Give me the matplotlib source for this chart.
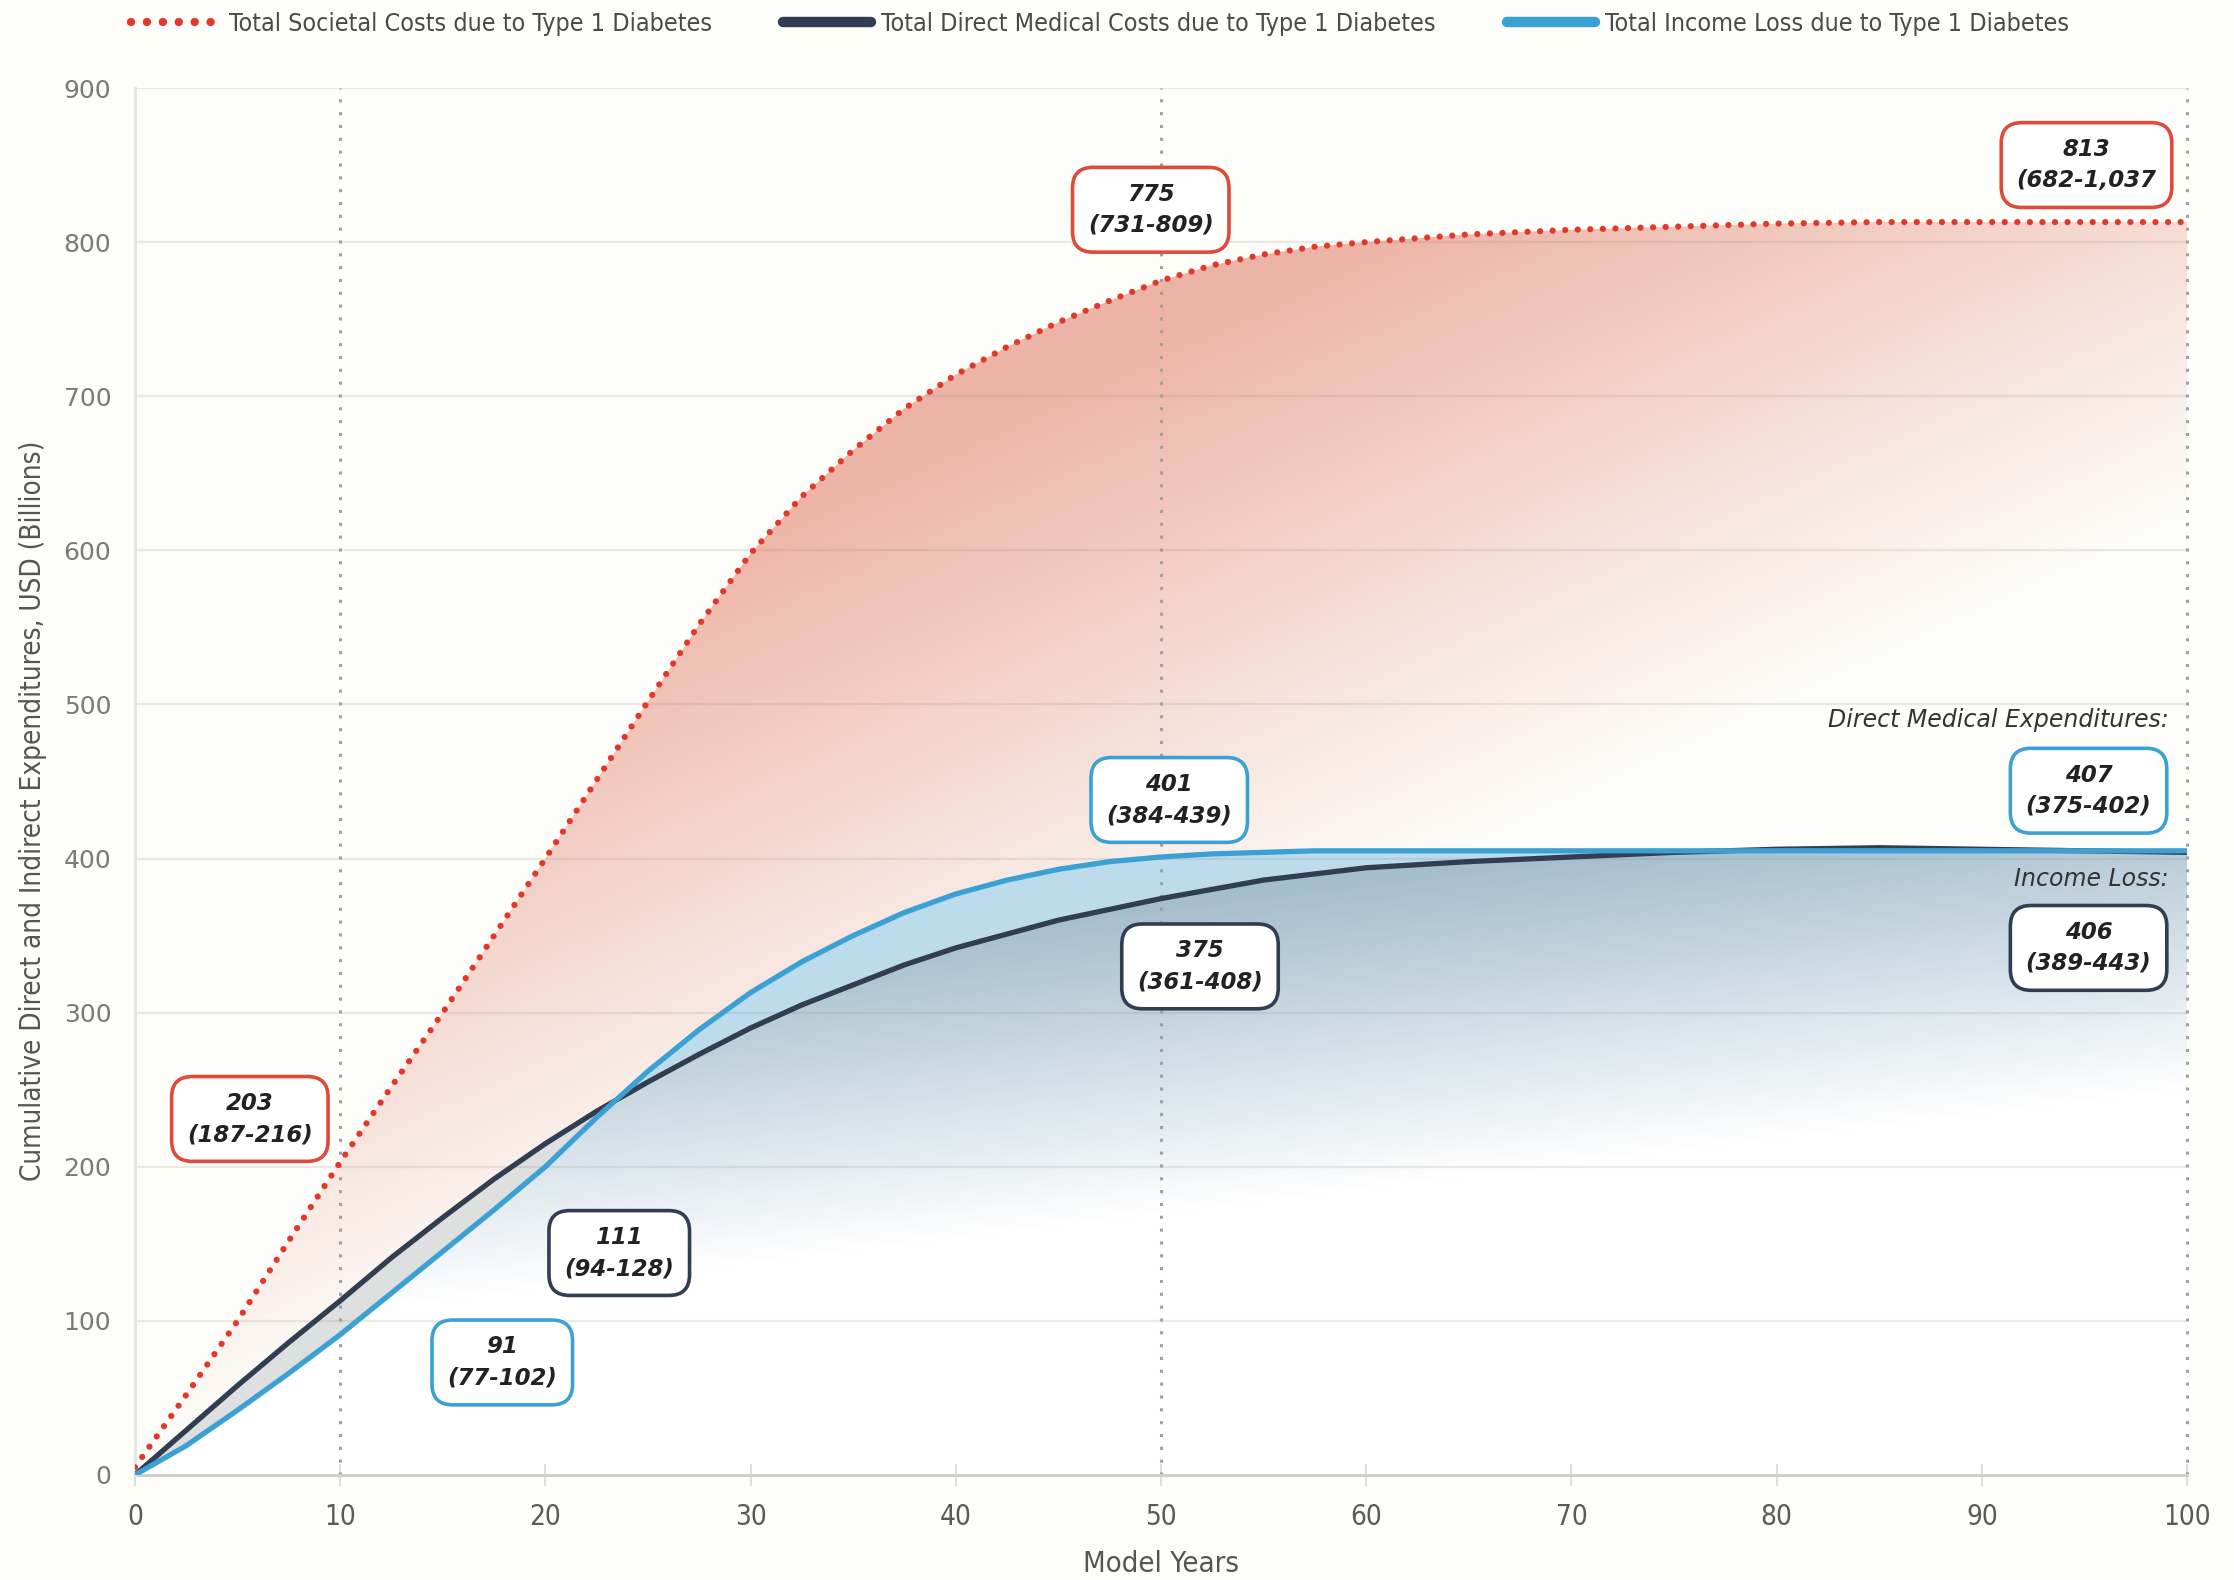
import numpy as np
import matplotlib
matplotlib.use("Agg")
import matplotlib.pyplot as plt
from matplotlib.patches import PathPatch
from matplotlib.lines import Line2D
from matplotlib.colors import to_rgb

# ---------------- data ----------------
years = [0, 2.5, 5, 7.5, 10, 12.5, 15, 17.5, 20, 22.5, 25, 27.5, 30, 32.5, 35, 37.5,
         40, 42.5, 45, 47.5, 50, 52.5, 55, 57.5, 60, 65, 70, 75, 80, 85, 90, 95, 100]
societal = [5, 52, 100, 152, 203, 252, 300, 350, 400, 451, 502, 552, 598, 635, 665, 692,
            714, 732, 748, 762, 775, 785, 792, 797, 800, 805, 808, 810, 812, 813, 813, 813, 813]
direct_medical = [0, 29, 58, 86, 113, 141, 167, 192, 215, 236, 255, 273, 290, 305, 318, 331,
                  342, 351, 360, 367, 374, 380, 386, 390, 394, 398, 401, 404, 406, 407, 406, 405, 404]
income_loss = [0, 19, 42, 66, 91, 118, 145, 172, 200, 232, 262, 289, 313, 333, 350, 365,
               377, 386, 393, 398, 401, 403, 404, 405, 405, 405, 405, 405, 405, 405, 405, 405, 405]

x_ticks = [0, 10, 20, 30, 40, 50, 60, 70, 80, 90, 100]
y_ticks = [0, 100, 200, 300, 400, 500, 600, 700, 800, 900]
ref_years = [10, 50, 100]

legend_labels = ["Total Societal Costs due to Type 1 Diabetes",
                 "Total Direct Medical Costs due to Type 1 Diabetes",
                 "Total Income Loss due to Type 1 Diabetes"]

ann_text = ["203\n(187-216)", "91\n(77-102)", "111\n(94-128)",
            "775\n(731-809)", "401\n(384-439)", "375\n(361-408)",
            "813\n(682-1,037", "407\n(375-402)", "406\n(389-443)"]
ann_x = [5.6, 17.9, 23.6, 49.5, 50.4, 51.9, 95.1, 95.2, 95.2]
ann_y = [231, 73, 144, 821, 438, 330, 850, 444, 342]
ann_kind = ["red", "blue", "dark", "red", "blue", "dark", "red", "blue", "dark"]

side_labels = ["Direct Medical Expenditures:", "Income Loss:"]
side_x = [99.1, 99.1]
side_y = [490, 387]

# ---------------- style ----------------
RED = "#E2382C"
RED_BOX = "#E04A3A"
DARK = "#313D50"
BLUE = "#3BA1D4"
BG = "#FDFDFA"
NARROW = dict(family="DejaVu Sans", stretch="condensed")

x = np.array(years, float)
soc = np.array(societal, float)
dm = np.array(direct_medical, float)
il = np.array(income_loss, float)

fig = plt.figure(figsize=(22.34, 15.8), dpi=100, facecolor=BG)
ax = fig.add_axes([0.0604, 0.0665, 0.9186, 0.8778])
ax.set_facecolor(BG)
ax.set_xlim(0, 100)
ax.set_ylim(0, 900)

# gradient images
gx = np.linspace(0, 100, 400)
gy = np.linspace(0, 900, 400)
GX, GY = np.meshgrid(gx, gy)

def grad_image(base, alpha):
    img = np.zeros(alpha.shape + (4,))
    img[..., :3] = to_rgb(base)
    img[..., 3] = alpha
    return img

red_alpha = np.clip(0.0015 * GY - 0.0092 * GX - 0.007, 0, 0.65)
blue_alpha = np.clip(0.0031 * GY - 0.005 * GX - 0.27, 0, 0.62)

upper_curves = np.maximum(dm, il)
lower_curves = np.minimum(dm, il)

def clip_patch(coll):
    p = PathPatch(coll.get_paths()[0], transform=ax.transData,
                  facecolor="none", edgecolor="none")
    ax.add_patch(p)
    return p

# red region
red_poly = ax.fill_between(x, soc, upper_curves, facecolor="none", edgecolor="none")
im_r = ax.imshow(grad_image("#E48C78", red_alpha), extent=[0, 100, 0, 900],
                 origin="lower", aspect="auto", zorder=1, interpolation="bilinear")
im_r.set_clip_path(clip_patch(red_poly))

# blue region below curves
ax.fill_between(x, lower_curves, 0, facecolor="white", edgecolor="none", zorder=1.1)
blue_poly = ax.fill_between(x, lower_curves, 0, facecolor="none", edgecolor="none")
im_b = ax.imshow(grad_image("#6E96AF", blue_alpha), extent=[0, 100, 0, 900],
                 origin="lower", aspect="auto", zorder=1.2, interpolation="bilinear")
im_b.set_clip_path(clip_patch(blue_poly))

# between the two curves
ax.fill_between(x, il, dm, where=il >= dm, interpolate=True,
                facecolor="#BCDBEB", edgecolor="none", zorder=1.3)
ax.fill_between(x, il, dm, where=il < dm, interpolate=True,
                facecolor="#DEDFDF", edgecolor="none", zorder=1.3)

# gridlines
for yt in y_ticks[1:]:
    ax.axhline(yt, color=(0.55, 0.5, 0.45, 0.16), lw=1.6, zorder=1.5)
for xr in ref_years:
    ax.axvline(xr, color="#A0A0A0", lw=2.2, linestyle=(0, (1, 3.2)), zorder=1.6,
               clip_on=False)

# curves
ax.plot(x, dm, color=DARK, lw=3.8, zorder=3, solid_capstyle="round", solid_joinstyle="round")
ax.plot(x, il, color=BLUE, lw=3.8, zorder=3.1, solid_capstyle="round", solid_joinstyle="round")
ax.plot(x, soc, color=RED, lw=4.5, linestyle=(0, (0.01, 2.0)),
        dash_capstyle="round", zorder=3.2)

# axes styling
for s in ["top", "right"]:
    ax.spines[s].set_visible(False)
ax.spines["left"].set_color("#E2E2E2")
ax.spines["left"].set_linewidth(2)
ax.spines["bottom"].set_color("#CFCFCB")
ax.spines["bottom"].set_linewidth(2.2)
ax.spines["bottom"].set_zorder(2)
ax.set_xticks(x_ticks)
ax.set_yticks(y_ticks)
ax.tick_params(axis="y", length=0, pad=17, labelsize=18, labelcolor="#7A7A7A")
ax.tick_params(axis="x", direction="inout", length=16, width=1.2, color="#D8D8D8",
               pad=12, labelsize=20, labelcolor="#5A5A5A")
for lab in ax.get_xticklabels():
    lab.set_fontstretch("condensed")
for lab in ax.get_yticklabels():
    lab.set_family("DejaVu Sans")

ax.set_xlabel("Model Years", fontsize=21, color="#555555", labelpad=14, **NARROW)
ax.set_ylabel("Cumulative Direct and Indirect Expenditures, USD (Billions)",
              fontsize=20, color="#555555", **NARROW)
ax.yaxis.set_label_coords(-0.0428, 0.479)

# annotation boxes
edge_map = {"red": RED_BOX, "blue": BLUE, "dark": DARK}
for t, xa, ya, k in zip(ann_text, ann_x, ann_y, ann_kind):
    ax.text(xa, ya, t, ha="center", va="center", fontsize=16.5, fontweight="bold",
            fontstyle="italic", family="DejaVu Sans", color="#222222",
            linespacing=1.45, zorder=5,
            bbox=dict(boxstyle="round,pad=0.67,rounding_size=0.9", facecolor="white",
                      edgecolor=edge_map[k], linewidth=2.6))
for t, xa, ya in zip(side_labels, side_x, side_y):
    ax.text(xa, ya, t, ha="right", va="center", fontsize=17, fontstyle="italic",
            family="DejaVu Sans", color="#333333", zorder=5)

# legend
handles = [Line2D([], [], color=RED, lw=6, linestyle=(0, (0.01, 1.9)), dash_capstyle="round"),
           Line2D([], [], color=DARK, lw=7.5, solid_capstyle="round"),
           Line2D([], [], color=BLUE, lw=7.5, solid_capstyle="round")]
leg = fig.legend(handles, legend_labels, loc="center left",
                 bbox_to_anchor=(0.0586, 1 - 24 / 1580), ncol=3, frameon=False,
                 handlelength=3.5, handletextpad=0.42, columnspacing=2.85,
                 borderpad=0, borderaxespad=0,
                 prop=dict(family="DejaVu Sans", stretch="condensed", size=18))
for txt in leg.get_texts():
    txt.set_color("#4A4A4A")

fig.savefig("out.png", dpi=100, facecolor=BG)
